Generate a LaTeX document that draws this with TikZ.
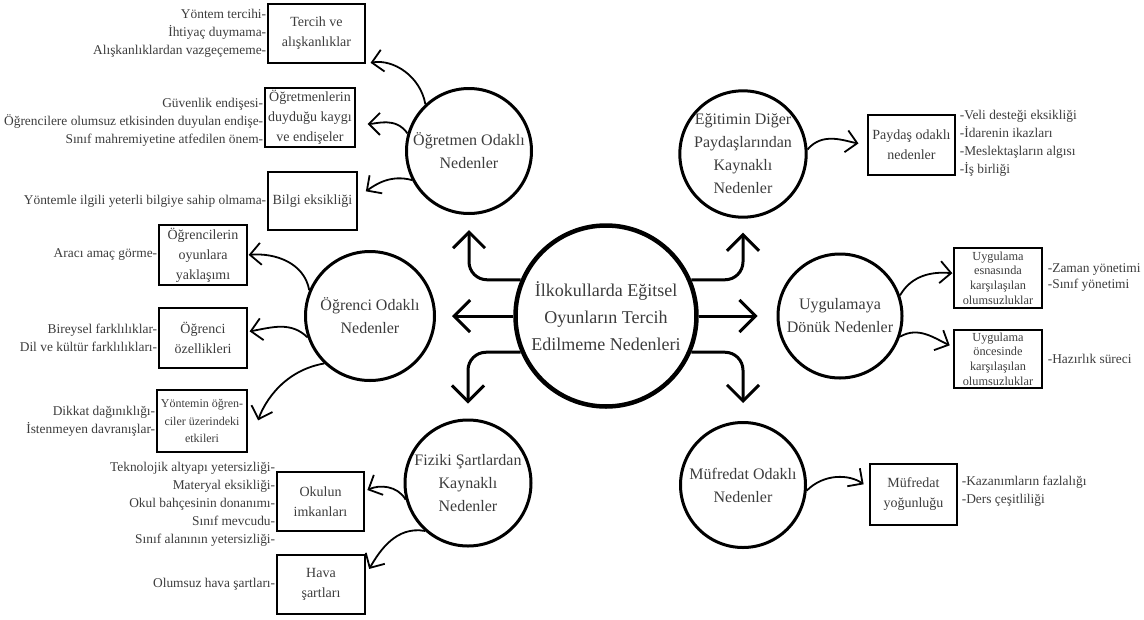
\documentclass[tikz,border=0pt]{standalone}
\usepackage{fontspec}
\setmainfont{Liberation Serif}
\usetikzlibrary{arrows.meta}
\definecolor{txtgray}{HTML}{3C3C3C}

\tikzset{
  maincirc/.style={circle, draw, line width=4.5pt, minimum size=181pt, align=center,
    text=txtgray, font=\fontsize{18}{27}\selectfont},
  subcirc/.style={circle, draw, line width=3pt, minimum size=#1pt, inner sep=0pt,
    align=center, text=txtgray, font=\fontsize{16}{23}\selectfont},
  causebox/.style 2 args={draw, line width=1.3pt, minimum width=#1pt, minimum height=#2pt,
    inner sep=1pt, align=center, text=txtgray, font=\fontsize{14}{20}\selectfont},
  smalltext/.style={inner sep=0pt, font=\fontsize{12.3}{14.6}\selectfont},
  itemlist/.style={inner sep=1pt, text=txtgray, font=\fontsize{13.4}{18}\selectfont},
  bigarrow/.style={line width=3pt, -{Straight Barb[length=16pt,width=32pt]}, rounded corners=18pt},
  subarrow/.style={line width=1.8pt, -{Straight Barb[length=11pt,width=22pt]}},
}

\begin{document}
\begin{tikzpicture}[x=1pt,y=1pt]
  \useasboundingbox (0,0) rectangle (1144,-619);

  % center and the six groups
  \node[maincirc] (main) at (606,-316) {İlkokullarda Eğitsel\\Oyunların Tercih\\Edilmeme Nedenleri};
  \node[subcirc=125] (teacher) at (469,-151) {Öğretmen Odaklı\\Nedenler};
  \node[subcirc=129] (student) at (370,-316) {Öğrenci Odaklı\\Nedenler};
  \node[subcirc=126] (physical) at (468,-483) {Fiziki Şartlardan\\Kaynaklı\\Nedenler};
  \node[subcirc=122] (stake) at (743,-154) {Eğitimin Diğer\\Paydaşlarından\\Kaynaklı\\Nedenler};
  \node[subcirc=124] (practice) at (840,-316) {Uygulamaya\\Dönük Nedenler};
  \node[subcirc=125] (curric) at (743,-485) {Müfredat Odaklı\\Nedenler};

  \draw[bigarrow, shorten >=15pt] (main.157) -| (teacher.south);
  \draw[bigarrow, shorten >=16pt] (main.west) -- (student.east);
  \draw[bigarrow, shorten >=15pt] (main.203) -| (physical.north);
  \draw[bigarrow, shorten >=14pt] (main.23) -| (stake.south);
  \draw[bigarrow, shorten >=19pt] (main.east) -- (practice.west);
  \draw[bigarrow, shorten >=18pt] (main.-23) -| (curric.north);

  % teacher
  \node[causebox={97}{59}] (habit) at (316.5,-33.5) {Tercih ve\\alışkanlıklar};
  \node[causebox={90}{59}] (worry) at (310,-117.5) {Öğretmenlerin\\duyduğu kaygı\\ve endişeler};
  \node[causebox={89}{58}] (knowl) at (312.5,-201) {Bilgi eksikliği};
  \node[itemlist, align=right, anchor=east] (habitlist) at (habit.west)
    {Yöntem tercihi-\\İhtiyaç duymama-\\Alışkanlıklardan vazgeçememe-};
  \node[itemlist, align=right, anchor=east] (worrylist) at ([yshift=-5pt]worry.west)
    {Güvenlik endişesi-\\Öğrencilere olumsuz etkisinden duyulan endişe-\\Sınıf mahremiyetine atfedilen önem-};
  \node[itemlist, align=right, anchor=east] (knowllist) at (knowl.west)
    {Yöntemle ilgili yeterli bilgiye sahip olmama-};
  \draw[subarrow, shorten >=5pt] (teacher.133) to[out=100, in=10] (habit.south east);
  \draw[subarrow, shorten >=12pt] (teacher.164) to[out=125, in=0] (worry.-8);
  \draw[subarrow, shorten >=10pt] (teacher.207) to[out=165, in=35] (knowl.5);

  % students
  \node[causebox={88}{60}] (approach) at (203,-255) {Öğrencilerin\\oyunlara\\yaklaşımı};
  \node[causebox={88}{60}] (traits) at (203,-338) {Öğrenci\\özellikleri};
  \node[causebox={90}{62}, font=\fontsize{12}{17.5}\selectfont] (effect) at (202,-421)
    {Yöntemin öğren-\\ciler üzerindeki\\etkileri};
  \node[itemlist, align=right, anchor=east] (approachlist) at (approach.west) {Aracı amaç görme-};
  \node[itemlist, align=right, anchor=east] (traitslist) at (traits.west)
    {Bireysel farklılıklar-\\Dil ve kültür farklılıkları-};
  \node[itemlist, align=right, anchor=east] (effectlist) at (effect.west)
    {Dikkat dağınıklığı-\\İstenmeyen davranışlar-};
  \draw[subarrow, shorten >=1pt] (student.157) to[out=100, in=5] (approach.east);
  \draw[subarrow, shorten >=2pt] (student.199) to[out=135, in=10] (traits.8);
  \draw[subarrow, shorten >=34pt] (student.226) to[out=190, in=72] (effect.south east);

  % physical conditions
  \node[causebox={87}{59}] (school) at (320.5,-501.5) {Okulun\\imkanları};
  \node[causebox={88}{59}] (weather) at (321,-584.5) {Hava\\şartları};
  \node[itemlist, align=right, anchor=east] (schoollist) at ([yshift=-3pt]school.west)
    {Teknolojik altyapı yetersizliği-\\Materyal eksikliği-\\Okul bahçesinin donanımı-\\Sınıf mevcudu-\\Sınıf alanının yetersizliği-};
  \node[itemlist, align=right, anchor=east] (weatherlist) at (weather.west) {Olumsuz hava şartları-};
  \draw[subarrow, shorten >=3pt] (physical.195) to[out=120, in=25] (school.13);
  \draw[subarrow, shorten >=7pt] (physical.228) to[out=170, in=60] (weather.12);

  % other stakeholders
  \node[causebox={87}{60}] (share) at (911.5,-145) {Paydaş odaklı\\nedenler};
  \node[itemlist, align=left, anchor=west, inner xsep=4pt] (sharelist) at ([yshift=2pt]share.east)
    {-Veli desteği eksikliği\\-İdarenin ikazları\\-Meslektaşların algısı\\-İş birliği};
  \draw[subarrow, shorten >=9pt] (stake.4) to[out=50, in=170] (share.west);

  % practice
  \node[causebox={88}{60}, smalltext] (during) at (998,-278) {Uygulama\\esnasında\\karşılaşılan\\olumsuzluklar};
  \node[causebox={88}{58}, smalltext] (before) at (998,-359) {Uygulama\\öncesinde\\karşılaşılan\\olumsuzluklar};
  \node[itemlist, align=left, anchor=west, inner xsep=5pt, font=\fontsize{13.4}{16}\selectfont] (duringlist)
    at (during.east) {-Zaman yönetimi\\-Sınıf yönetimi};
  \node[itemlist, align=left, anchor=west, inner xsep=5pt] (beforelist) at (before.east) {-Hazırlık süreci};
  \draw[subarrow, shorten >=1pt] (practice.19) to[out=60, in=175] (during.174);
  \draw[subarrow, shorten >=4pt] (practice.-19) to[out=30, in=155] (before.165);

  % curriculum
  \node[causebox={87}{61}] (load) at (913.5,-494.5) {Müfredat\\yoğunluğu};
  \node[itemlist, align=left, anchor=west, inner xsep=4pt] (loadlist) at ([yshift=3pt]load.east)
    {-Kazanımların fazlalığı\\-Ders çeşitliliği};
  \draw[subarrow, shorten >=7pt] (curric.-5) to[out=45, in=145] (load.172);
\end{tikzpicture}
\end{document}
